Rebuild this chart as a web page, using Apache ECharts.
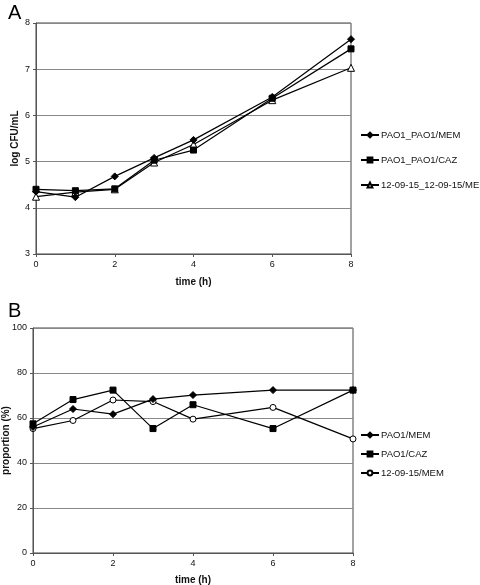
<!DOCTYPE html>
<html><head><meta charset="utf-8">
<script src="https://cdn.jsdelivr.net/npm/echarts@6/dist/echarts.min.js"></script>
<style>html,body{margin:0;padding:0;background:#fff}#c{width:480px;height:585px}</style>
</head><body><div id="c"></div>
<script>
var times = [0, 1, 2, 3, 4, 6, 8];
var namesA = ['PAO1_PAO1/MEM', 'PAO1_PAO1/CAZ', '12-09-15_12-09-15/MEM'];
var a_mem = [4.35, 4.23, 4.68, 5.08, 5.47, 6.40, 7.65];
var a_caz = [4.40, 4.37, 4.41, 5.03, 5.25, 6.37, 7.44];
var a_1209 = [4.24, 4.34, 4.40, 4.98, 5.37, 6.33, 7.03];
var namesB = ['PAO1/MEM', 'PAO1/CAZ', '12-09-15/MEM'];
var b_mem = [56.0, 64.0, 61.7, 68.4, 70.2, 72.4, 72.4];
var b_caz = [57.4, 68.2, 72.4, 55.3, 65.9, 55.3, 72.4];
var b_1209 = [55.3, 58.9, 68.0, 67.3, 59.5, 64.7, 50.7];

function pts(v){ return times.map(function(t,i){ return [t, v[i]]; }); }
var FONT = 'Liberation Sans, Arial, sans-serif';
var symA = ['diamond', 'rect', 'triangle'];
var symB = ['diamond', 'rect', 'circle'];
var sizesA = [7, 6, 7];
var sizesB = [7, 6, 6];
var fillA = ['#000', '#000', '#fff'];
var fillB = ['#000', '#000', '#fff'];

function mkSeries(names, arrs, syms, sizes, fills, idx){
  return names.map(function(n,i){
    return {
      name: n, type: 'line', xAxisIndex: idx, yAxisIndex: idx,
      data: pts(arrs[i]), symbol: syms[i], symbolSize: sizes[i],
      lineStyle: {color: '#000', width: 1.2},
      itemStyle: {color: fills[i], borderColor: '#000', borderWidth: 1},
      animation: false, z: 3 - i
    };
  });
}

function xAx(idx, gap){
  return {gridIndex: idx, type: 'value', min: 0, max: 8, interval: 2,
    name: 'time (h)', nameLocation: 'middle', nameGap: gap, nameMoveOverlap: false,
    nameTextStyle: {fontFamily: FONT, fontWeight: 'bold', fontSize: 10, color: '#111'},
    axisLine: {lineStyle: {color: '#555', width: 1}}, axisTick: {show: true, length: 3, lineStyle:{color:'#555'}},
    axisLabel: {fontFamily: FONT, fontSize: 9, color: '#111', margin: 6},
    splitLine: {show: false}};
}
function yAx(idx, min, max, interval, name, gap){
  return {gridIndex: idx, type: 'value', min: min, max: max, interval: interval,
    name: name, nameLocation: 'middle', nameGap: gap, nameMoveOverlap: false,
    nameTextStyle: {fontFamily: FONT, fontWeight: 'bold', fontSize: 10, color: '#111'},
    axisLine: {show: true, lineStyle: {color: '#555', width: 1}}, axisTick: {show: true, length: 3, lineStyle:{color:'#555'}},
    axisLabel: {fontFamily: FONT, fontSize: 9, color: '#111', margin: 6},
    splitLine: {show: true, lineStyle: {color: '#888', width: 1}}};
}

var chart = echarts.init(document.getElementById('c'), null, {renderer: 'canvas'});
chart.setOption({
  backgroundColor: '#fff',
  animation: false,
  title: [
    {text: 'A', left: 3, top: -2, textStyle: {fontFamily: FONT, fontSize: 20, fontWeight: 'normal', color: '#000'}},
    {text: 'B', left: 3, top: 296, textStyle: {fontFamily: FONT, fontSize: 20, fontWeight: 'normal', color: '#000'}}
  ],
  grid: [
    {left: 36, top: 23, width: 315, height: 231, containLabel: false, outerBoundsMode: 'none', show: true, borderColor: '#444', borderWidth: 1, backgroundColor: 'transparent'},
    {left: 33, top: 328, width: 320, height: 225, containLabel: false, outerBoundsMode: 'none', show: true, borderColor: '#444', borderWidth: 1, backgroundColor: 'transparent'}
  ],
  xAxis: [xAx(0, 23), xAx(1, 22)],
  yAxis: [yAx(0, 3, 8, 1, 'log CFU/mL', 16), yAx(1, 0, 100, 20, 'proportion (%)', 22)],
  legend: [
    {data: namesA, orient: 'vertical', left: 355, top: 125, itemGap: 15, itemWidth: 18, itemHeight: 6,
     textStyle: {fontFamily: FONT, fontSize: 9.5, color: '#111', padding: [0,0,0,-3]}},
    {data: namesB, orient: 'vertical', left: 355, top: 425, itemGap: 9, itemWidth: 18, itemHeight: 6,
     textStyle: {fontFamily: FONT, fontSize: 9.5, color: '#111', padding: [0,0,0,-3]}}
  ],
  series: mkSeries(namesA, [a_mem, a_caz, a_1209], symA, sizesA, fillA, 0)
    .concat(mkSeries(namesB, [b_mem, b_caz, b_1209], symB, sizesB, fillB, 1))
});
</script>
</body></html>
